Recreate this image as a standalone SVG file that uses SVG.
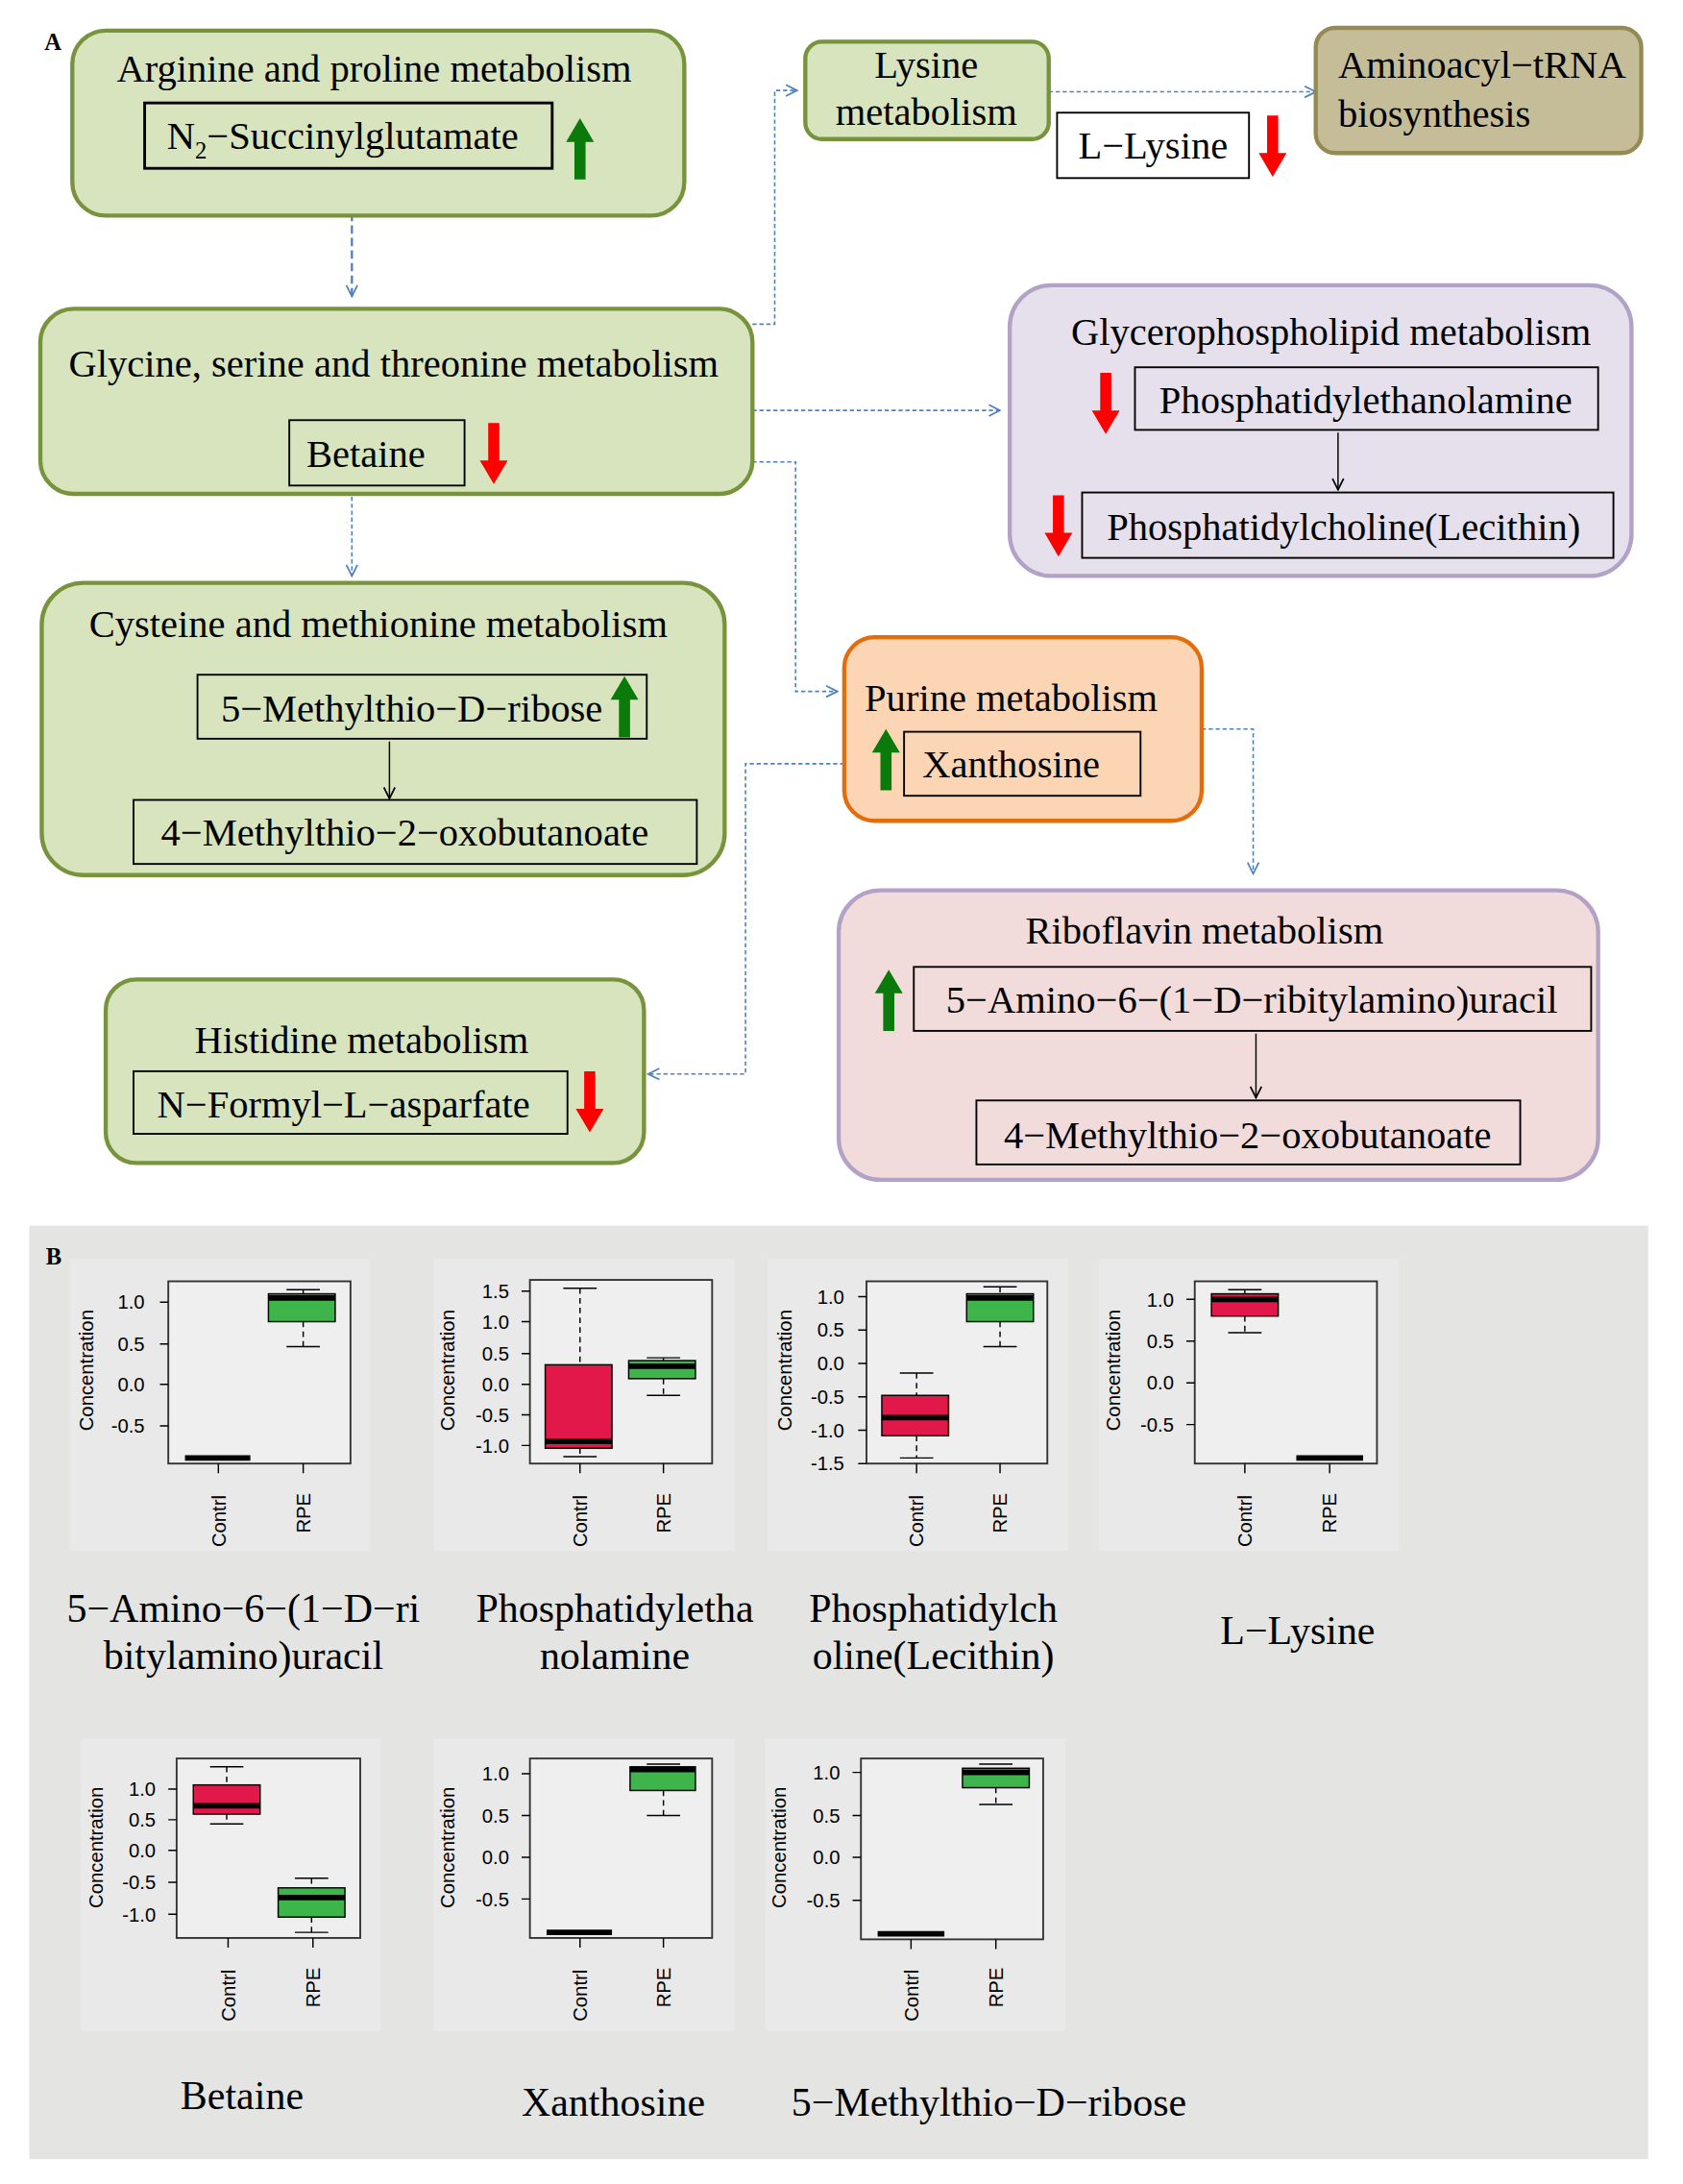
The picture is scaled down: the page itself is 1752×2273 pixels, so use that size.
<svg xmlns="http://www.w3.org/2000/svg" width="1752" height="2273" viewBox="0 0 1752 2273">
<defs>
<style>
.t{font-family:"Liberation Serif",serif;font-size:28px;fill:#000}
.g{fill:#d7e4bd;stroke:#77933c;stroke-width:3}
.ib{fill:none;stroke:#000;stroke-width:1.3}
.c{fill:none;stroke:#4f81bd;stroke-width:1.1;stroke-dasharray:3 2}
.ax{font-family:"Liberation Sans",sans-serif;font-size:14px;fill:#000}
.pb{fill:#efefef;stroke:#333;stroke-width:1.3}
.pl{fill:#e9e9e9}
.bx{stroke:#000;stroke-width:1}
.r{fill:#e2174a}.gr{fill:#3db54a}
.wh{stroke:#000;stroke-width:1;stroke-dasharray:4 3;fill:none}
.cap{stroke:#000;stroke-width:1}
.md{stroke:#000;stroke-width:4}
.nm{font-family:"Liberation Serif",serif;font-size:29px;fill:#000;text-anchor:middle}
</style>
<marker id="ah" viewBox="0 0 10 10" refX="9" refY="5" markerWidth="10" markerHeight="10" markerUnits="userSpaceOnUse" orient="auto"><path d="M1,1 L9,5 L1,9" fill="none" stroke="#4f81bd" stroke-width="1.2"/></marker>
<marker id="bh" viewBox="0 0 10 10" refX="9" refY="5" markerWidth="10" markerHeight="10" markerUnits="userSpaceOnUse" orient="auto"><path d="M1,1 L9,5 L1,9" fill="none" stroke="#000" stroke-width="1.2"/></marker>
<path id="up" d="M0,0 L10,17 L4,17 L4,44 L-4,44 L-4,17 L-10,17 Z" fill="#0a7a0a"/>
<path id="dn" d="M0,44 L10,27 L4,27 L4,0 L-4,0 L-4,27 L-10,27 Z" fill="#ff0000"/>
</defs>
<rect width="1752" height="2273" fill="#fff"/>
<g transform="scale(1.4479)">
<text x="32" y="36" style="font-family:'Liberation Serif',serif;font-weight:bold;font-size:17px">A</text>

<g id="connectors">
<path class="c" d="M253,153 V213" marker-end="url(#ah)" style="stroke-dasharray:6 3;stroke-width:1.6"/>
<path class="c" d="M541,233 H557 V65 H573" marker-end="url(#ah)"/>
<path class="c" d="M754,66 H946" marker-end="url(#ah)"/>
<path class="c" d="M541,295 H719" marker-end="url(#ah)"/>
<path class="c" d="M541,332 H572 V497 H602" marker-end="url(#ah)"/>
<path class="c" d="M253,357 V414" marker-end="url(#ah)"/>
<path class="c" d="M864,524 H901 V628" marker-end="url(#ah)"/>
<path class="c" d="M607,549 H536 V772 H466" marker-end="url(#ah)"/>
</g>

<g id="arginine">
<rect class="g" x="52" y="22" width="440" height="133" rx="24"/>
<text class="t" x="269" y="59" text-anchor="middle">Arginine and proline metabolism</text>
<rect class="ib" x="104" y="74" width="293" height="47" style="stroke-width:2"/>
<text class="t" x="120" y="107">N<tspan font-size="17" dy="7">2</tspan><tspan dy="-7">−Succinylglutamate</tspan></text>
<use href="#up" x="417" y="85"/>
</g>

<g id="glycine">
<rect class="g" x="29" y="222" width="512" height="133" rx="24"/>
<text class="t" x="283" y="271" text-anchor="middle">Glycine, serine and threonine metabolism</text>
<rect class="ib" x="208" y="302" width="126" height="47"/>
<text class="t" x="263" y="336" text-anchor="middle">Betaine</text>
<use href="#dn" x="355" y="304"/>
</g>

<g id="lysine">
<rect class="g" x="579" y="30" width="175" height="70" rx="12"/>
<text class="t" x="666" y="56" text-anchor="middle">Lysine</text>
<text class="t" x="666" y="90" text-anchor="middle">metabolism</text>
<rect class="ib" x="760" y="81" width="138" height="47"/>
<text class="t" x="829" y="114" text-anchor="middle">L−Lysine</text>
<use href="#dn" x="915" y="83"/>
</g>

<g id="aminoacyl">
<rect x="946" y="20" width="234" height="90" rx="14" fill="#c4bd97" stroke="#948a54" stroke-width="3"/>
<text class="t" x="962" y="56">Aminoacyl−tRNA</text>
<text class="t" x="962" y="91">biosynthesis</text>
</g>

<g id="glycerophospholipid">
<rect x="726" y="205" width="447" height="209" rx="30" fill="#e5e0ec" stroke="#b3a2c7" stroke-width="3"/>
<text class="t" x="957" y="248" text-anchor="middle">Glycerophospholipid metabolism</text>
<rect class="ib" x="816" y="264" width="333" height="45"/>
<text class="t" x="982" y="297" text-anchor="middle">Phosphatidylethanolamine</text>
<use href="#dn" x="795" y="268"/>
<path d="M962,311 V352" stroke="#000" stroke-width="1" marker-end="url(#bh)"/>
<rect class="ib" x="778" y="354" width="382" height="47"/>
<text class="t" x="966" y="388" text-anchor="middle">Phosphatidylcholine(Lecithin)</text>
<use href="#dn" x="761" y="356"/>
</g>

<g id="cysteine">
<rect class="g" x="30" y="419" width="491" height="210" rx="30"/>
<text class="t" x="272" y="458" text-anchor="middle">Cysteine and methionine metabolism</text>
<rect class="ib" x="142" y="485" width="323" height="46"/>
<text class="t" x="296" y="519" text-anchor="middle">5−Methylthio−D−ribose</text>
<use href="#up" x="449" y="486"/>
<path d="M280,533 V574" stroke="#000" stroke-width="1" marker-end="url(#bh)"/>
<rect class="ib" x="96" y="575" width="405" height="46"/>
<text class="t" x="291" y="608" text-anchor="middle">4−Methylthio−2−oxobutanoate</text>
</g>

<g id="purine">
<rect x="607" y="458" width="257" height="132" rx="22" fill="#fcd5b5" stroke="#e46c0a" stroke-width="3"/>
<text class="t" x="727" y="511" text-anchor="middle">Purine metabolism</text>
<rect class="ib" x="650" y="526" width="170" height="46"/>
<text class="t" x="727" y="559" text-anchor="middle">Xanthosine</text>
<use href="#up" x="637" y="524"/>
</g>

<g id="riboflavin">
<rect x="603" y="640" width="546" height="208" rx="30" fill="#f2dcdb" stroke="#b3a2c7" stroke-width="3"/>
<text class="t" x="866" y="678" text-anchor="middle">Riboflavin metabolism</text>
<rect class="ib" x="657" y="695" width="487" height="46"/>
<text class="t" x="900" y="728" text-anchor="middle">5−Amino−6−(1−D−ribitylamino)uracil</text>
<use href="#up" x="639" y="697"/>
<path d="M903,743 V789" stroke="#000" stroke-width="1" marker-end="url(#bh)"/>
<rect class="ib" x="702" y="791" width="391" height="46"/>
<text class="t" x="897" y="825" text-anchor="middle">4−Methylthio−2−oxobutanoate</text>
</g>

<g id="histidine">
<rect class="g" x="76" y="704" width="387" height="132" rx="22"/>
<text class="t" x="260" y="757" text-anchor="middle">Histidine metabolism</text>
<rect class="ib" x="96" y="770" width="312" height="45"/>
<text class="t" x="247" y="803" text-anchor="middle">N−Formyl−L−asparfate</text>
<use href="#dn" x="424" y="770"/>
</g>

<!-- Panel B -->
<rect x="21" y="881" width="1164" height="671" fill="#e4e5e3"/>
<text x="33" y="909" style="font-family:'Liberation Serif',serif;font-weight:bold;font-size:17px">B</text>

<g id="plot1">
<rect class="pl" x="50" y="905" width="216" height="210"/>
<rect class="pb" x="121" y="921" width="131" height="131"/>
<g class="ax" text-anchor="end"><text x="104" y="941">1.0</text><text x="104" y="971">0.5</text><text x="104" y="1000">0.0</text><text x="104" y="1030">-0.5</text></g>
<path d="M121,936 h-6 M121,966 h-6 M121,995 h-6 M121,1025 h-6 M157,1052 v7 M218,1052 v7" stroke="#000"/>
<text class="ax" transform="translate(67,985) rotate(-90)" text-anchor="middle">Concentration</text>
<text class="ax" transform="translate(162,1112) rotate(-90)">Contrl</text>
<text class="ax" transform="translate(223,1102) rotate(-90)">RPE</text>
<path class="md" d="M133,1048 H180"/>
<path class="wh" d="M218,927 V930 M218,950 V968"/><path class="cap" d="M206,927 H230 M206,968 H230"/>
<rect class="gr bx" x="193" y="930" width="48" height="20"/><path class="md" d="M193,933 H241"/>
<text class="nm" x="175" y="1166">5−Amino−6−(1−D−ri</text><text class="nm" x="175" y="1200">bitylamino)uracil</text>
</g>

<g id="plot2">
<rect class="pl" x="312" y="905" width="216" height="210"/>
<rect class="pb" x="381" y="920" width="131" height="132"/>
<g class="ax" text-anchor="end"><text x="366" y="933">1.5</text><text x="366" y="955">1.0</text><text x="366" y="978">0.5</text><text x="366" y="1000">0.0</text><text x="366" y="1022">-0.5</text><text x="366" y="1044">-1.0</text></g>
<path d="M381,928 h-6 M381,950 h-6 M381,973 h-6 M381,995 h-6 M381,1017 h-6 M381,1039 h-6 M417,1052 v7 M477,1052 v7" stroke="#000"/>
<text class="ax" transform="translate(327,985) rotate(-90)" text-anchor="middle">Concentration</text>
<text class="ax" transform="translate(422,1112) rotate(-90)">Contrl</text>
<text class="ax" transform="translate(482,1102) rotate(-90)">RPE</text>
<path class="wh" d="M417,926 V981 M417,1041 V1047"/><path class="cap" d="M405,926 H429 M405,1047 H429"/>
<rect class="r bx" x="392" y="981" width="48" height="60"/><path class="md" d="M392,1036 H440"/>
<path class="wh" d="M477,976 V978 M477,991 V1003"/><path class="cap" d="M465,976 H489 M465,1003 H489"/>
<rect class="gr bx" x="452" y="978" width="48" height="13"/><path class="md" d="M452,982 H500"/>
<text class="nm" x="442" y="1166">Phosphatidyletha</text><text class="nm" x="442" y="1200">nolamine</text>
</g>

<g id="plot3">
<rect class="pl" x="552" y="905" width="216" height="210"/>
<rect class="pb" x="623" y="921" width="130" height="131"/>
<g class="ax" text-anchor="end"><text x="607" y="937">1.0</text><text x="607" y="961">0.5</text><text x="607" y="985">0.0</text><text x="607" y="1009">-0.5</text><text x="607" y="1033">-1.0</text><text x="607" y="1057">-1.5</text></g>
<path d="M623,932 h-6 M623,956 h-6 M623,980 h-6 M623,1004 h-6 M623,1028 h-6 M623,1052 h-6 M659,1052 v7 M719,1052 v7" stroke="#000"/>
<text class="ax" transform="translate(569,985) rotate(-90)" text-anchor="middle">Concentration</text>
<text class="ax" transform="translate(664,1112) rotate(-90)">Contrl</text>
<text class="ax" transform="translate(724,1102) rotate(-90)">RPE</text>
<path class="wh" d="M659,987 V1003 M659,1032 V1048"/><path class="cap" d="M647,987 H671 M647,1048 H671"/>
<rect class="r bx" x="634" y="1003" width="48" height="29"/><path class="md" d="M634,1019 H682"/>
<path class="wh" d="M719,925 V930 M719,950 V968"/><path class="cap" d="M707,925 H731 M707,968 H731"/>
<rect class="gr bx" x="695" y="930" width="48" height="20"/><path class="md" d="M695,933 H743"/>
<text class="nm" x="671" y="1166">Phosphatidylch</text><text class="nm" x="671" y="1200">oline(Lecithin)</text>
</g>

<g id="plot4">
<rect class="pl" x="790" y="905" width="216" height="210"/>
<rect class="pb" x="859" y="921" width="131" height="131"/>
<g class="ax" text-anchor="end"><text x="844" y="939">1.0</text><text x="844" y="969">0.5</text><text x="844" y="999">0.0</text><text x="844" y="1029">-0.5</text></g>
<path d="M859,934 h-6 M859,964 h-6 M859,994 h-6 M859,1024 h-6 M895,1052 v7 M956,1052 v7" stroke="#000"/>
<text class="ax" transform="translate(805,985) rotate(-90)" text-anchor="middle">Concentration</text>
<text class="ax" transform="translate(900,1112) rotate(-90)">Contrl</text>
<text class="ax" transform="translate(961,1102) rotate(-90)">RPE</text>
<path class="wh" d="M895,927 V930 M895,946 V958"/><path class="cap" d="M883,927 H907 M883,958 H907"/>
<rect class="r bx" x="871" y="930" width="48" height="16"/><path class="md" d="M871,934 H919"/>
<path class="md" d="M932,1048 H980"/>
<text class="nm" x="933" y="1182">L−Lysine</text>
</g>

<g id="plot5">
<rect class="pl" x="58" y="1250" width="216" height="210"/>
<rect class="pb" x="127" y="1264" width="132" height="129"/>
<g class="ax" text-anchor="end"><text x="112" y="1291">1.0</text><text x="112" y="1313">0.5</text><text x="112" y="1335">0.0</text><text x="112" y="1358">-0.5</text><text x="112" y="1381">-1.0</text></g>
<path d="M127,1286 h-6 M127,1308 h-6 M127,1330 h-6 M127,1353 h-6 M127,1376 h-6 M164,1393 v7 M225,1393 v7" stroke="#000"/>
<text class="ax" transform="translate(74,1328) rotate(-90)" text-anchor="middle">Concentration</text>
<text class="ax" transform="translate(169,1453) rotate(-90)">Contrl</text>
<text class="ax" transform="translate(230,1443) rotate(-90)">RPE</text>
<path class="wh" d="M163,1270 V1283 M163,1304 V1311"/><path class="cap" d="M151,1270 H175 M151,1311 H175"/>
<rect class="r bx" x="139" y="1283" width="48" height="21"/><path class="md" d="M139,1298 H187"/>
<path class="wh" d="M224,1350 V1357 M224,1378 V1389"/><path class="cap" d="M212,1350 H236 M212,1389 H236"/>
<rect class="gr bx" x="200" y="1357" width="48" height="21"/><path class="md" d="M200,1364 H248"/>
<text class="nm" x="174" y="1516">Betaine</text>
</g>

<g id="plot6">
<rect class="pl" x="312" y="1250" width="216" height="210"/>
<rect class="pb" x="381" y="1264" width="131" height="129"/>
<g class="ax" text-anchor="end"><text x="366" y="1280">1.0</text><text x="366" y="1310">0.5</text><text x="366" y="1340">0.0</text><text x="366" y="1370">-0.5</text></g>
<path d="M381,1275 h-6 M381,1305 h-6 M381,1335 h-6 M381,1365 h-6 M417,1393 v7 M477,1393 v7" stroke="#000"/>
<text class="ax" transform="translate(327,1328) rotate(-90)" text-anchor="middle">Concentration</text>
<text class="ax" transform="translate(422,1453) rotate(-90)">Contrl</text>
<text class="ax" transform="translate(482,1443) rotate(-90)">RPE</text>
<path class="md" d="M393,1389 H440"/>
<path class="wh" d="M477,1287 V1305"/><path class="cap" d="M465,1268 H489 M465,1305 H489"/>
<rect class="gr bx" x="453" y="1270" width="47" height="17"/><path class="md" d="M453,1272 H500"/>
<text class="nm" x="441" y="1521">Xanthosine</text>
</g>

<g id="plot7">
<rect class="pl" x="550" y="1250" width="216" height="210"/>
<rect class="pb" x="619" y="1264" width="131" height="130"/>
<g class="ax" text-anchor="end"><text x="604" y="1279">1.0</text><text x="604" y="1310">0.5</text><text x="604" y="1340">0.0</text><text x="604" y="1371">-0.5</text></g>
<path d="M619,1274 h-6 M619,1305 h-6 M619,1335 h-6 M619,1366 h-6 M655,1394 v7 M716,1394 v7" stroke="#000"/>
<text class="ax" transform="translate(565,1328) rotate(-90)" text-anchor="middle">Concentration</text>
<text class="ax" transform="translate(660,1453) rotate(-90)">Contrl</text>
<text class="ax" transform="translate(721,1443) rotate(-90)">RPE</text>
<path class="md" d="M631,1390 H679"/>
<path class="wh" d="M716,1285 V1297"/><path class="cap" d="M704,1268 H728 M704,1297 H728"/>
<rect class="gr bx" x="692" y="1271" width="48" height="14"/><path class="md" d="M692,1274 H740"/>
<text class="nm" x="711" y="1521">5−Methylthio−D−ribose</text>
</g>
</g>
</svg>
